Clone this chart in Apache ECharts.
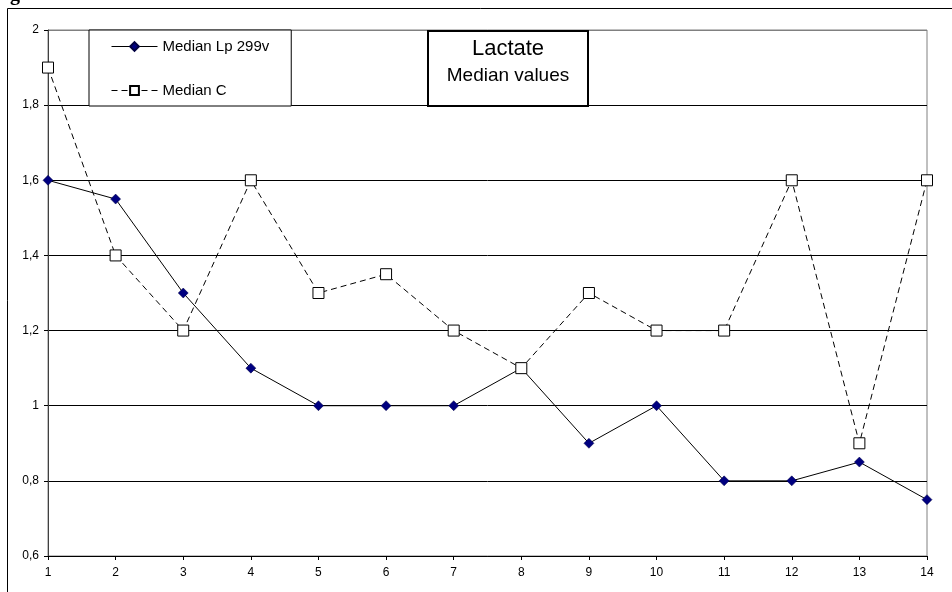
<!DOCTYPE html>
<html><head><meta charset="utf-8">
<script src="https://cdn.jsdelivr.net/npm/echarts@6/dist/echarts.min.js"></script>
<style>html,body{margin:0;padding:0;background:#fff}#c{width:952px;height:592px}</style>
</head><body><div id="c"></div>
<script>
const categories = ['1','2','3','4','5','6','7','8','9','10','11','12','13','14'];
const lpValues = [1.6, 1.55, 1.3, 1.1, 1.0, 1.0, 1.0, 1.1, 0.9, 1.0, 0.8, 0.8, 0.85, 0.75];
const cValues = [1.9, 1.4, 1.2, 1.6, 1.3, 1.35, 1.2, 1.1, 1.3, 1.2, 1.2, 1.6, 0.9, 1.6];
const seriesNames = ['Median Lp 299v', 'Median C'];
const titleLines = ['Lactate', 'Median values'];

const chart = echarts.init(document.getElementById('c'), null, {renderer:'canvas'});
const font = '"Liberation Sans", Arial, sans-serif';
chart.setOption({
  animation: false,
  backgroundColor: '#fff',
  grid: {left: 48, top: 30, right: 25, bottom: 36, show: true, borderColor: '#808080', borderWidth: 1},
  xAxis: {
    type: 'category', data: categories, boundaryGap: false,
    axisLine: {lineStyle: {color: '#000', width: 1}},
    axisTick: {show: true, alignWithLabel: true, length: 4, lineStyle: {color: '#000'}},
    axisLabel: {color: '#000', fontFamily: font, fontSize: 12, margin: 11},
    splitLine: {show: false}
  },
  yAxis: {
    type: 'value', min: 0.6, max: 2, interval: 0.2,
    axisLine: {show: true, lineStyle: {color: '#404040', width: 1}},
    axisTick: {show: true, length: 4, lineStyle: {color: '#000'}},
    axisLabel: {color: '#000', fontFamily: font, fontSize: 12, margin: 9,
      formatter: v => String(Math.round(v*10)/10).replace('.', ',')},
    splitLine: {show: true, lineStyle: {color: ['#000','#000','#000','#000','#000','#000','#000','#808080'], width: 1}}
  },
  legend: {
    orient: 'vertical', left: 89, top: 30,
    padding: [9, 22, 8, 22],
    itemGap: 29, itemWidth: 46, itemHeight: 11,
    borderColor: '#000', borderWidth: 1, backgroundColor: '#fff',
    lineStyle: {width: 1},
    textStyle: {color: '#000', fontFamily: font, fontSize: 15},
    data: seriesNames
  },
  series: [
    {name: seriesNames[0], type: 'line', data: lpValues, symbol: 'diamond', symbolSize: 10,
     lineStyle: {color: '#000', width: 1},
     itemStyle: {color: '#000080', borderColor: '#000040', borderWidth: 0.5}, z: 3},
    {name: seriesNames[1], type: 'line', data: cValues, symbol: 'rect', symbolSize: 11,
     lineStyle: {color: '#000', width: 1, type: [6, 4]},
     itemStyle: {color: '#fff', borderColor: '#000', borderWidth: 1}, z: 4}
  ],
  graphic: [
    {type: 'rect', shape: {x: 7.5, y: 8.5, width: 960, height: 600},
     style: {fill: 'none', stroke: '#000', lineWidth: 1}, silent: true, z: 0},
    {type: 'text', style: {text: 'g', x: 10, y: -15, font: 'bold 20px "Liberation Serif", serif', fill: '#000'}},
    {type: 'rect', z: 10, shape: {x: 428, y: 31, width: 160, height: 75},
     style: {fill: '#fff', stroke: '#000', lineWidth: 2}},
    {type: 'text', z: 11,
     style: {text: titleLines[0], font: '22px "Liberation Sans", Arial, sans-serif', fill: '#000', x: 508, y: 49, align: 'center', verticalAlign: 'middle'}},
    {type: 'text', z: 11,
     style: {text: titleLines[1], font: '19px "Liberation Sans", Arial, sans-serif', fill: '#000', x: 508, y: 76, align: 'center', verticalAlign: 'middle'}}
  ]
});
</script></body></html>
